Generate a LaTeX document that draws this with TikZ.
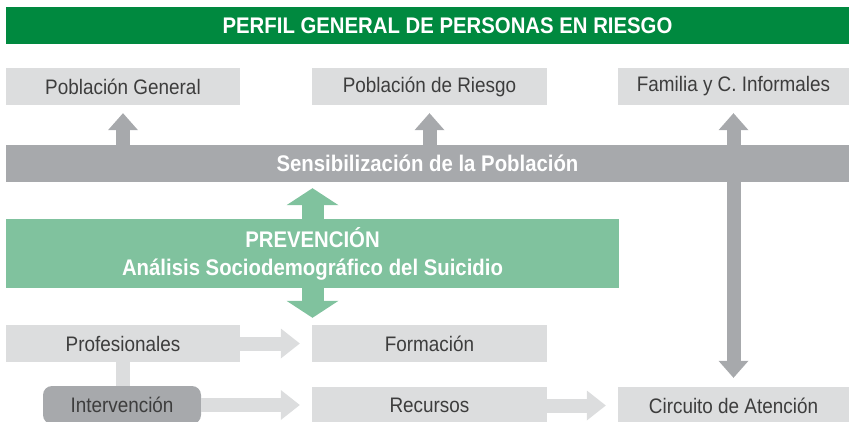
\documentclass[tikz,border=0pt]{standalone}
\usepackage{fontspec}
\setmainfont[FakeStretch=0.9]{Liberation Sans}
\usepackage{tikz}
\usetikzlibrary{arrows.meta}
\definecolor{titlegreen}{RGB}{0,137,63}
\definecolor{prevgreen}{RGB}{128,194,158}
\definecolor{bargray}{RGB}{167,169,172}
\definecolor{boxgray}{RGB}{220,221,222}
\definecolor{textgray}{RGB}{61,61,61}
\tikzset{
	box node/.style={fill=boxgray,text=textgray,minimum width=235pt,minimum height=37pt,inner sep=0pt,font=\fontsize{21}{24}\selectfont},
	bar node/.style={fill=bargray,text=white,minimum width=843pt,minimum height=37pt,inner sep=0pt,font=\fontsize{22.6}{26}\selectfont\bfseries},
	gray arrow/.style={bargray,line width=14pt,-{Triangle[length=17pt,width=30pt,line width=0pt]}},
	light arrow/.style={boxgray,line width=14pt,-{Triangle[length=19pt,width=30pt,line width=0pt]}},
	green arrow/.style={prevgreen,line width=22pt,{Triangle[length=17pt,width=52pt,line width=0pt]}-{Triangle[length=17pt,width=52pt,line width=0pt]}}
}

\begin{document}
\begin{tikzpicture}[x=1pt,y=-1pt]
	\useasboundingbox (0,0) rectangle (849,422);
	\node [bar node,fill=titlegreen,minimum width=883pt] (title) at (447.5,25.5) {PERFIL GENERAL DE PERSONAS EN RIESGO};
	\node [box node,minimum width=234pt] (pg) at (123,86.5) {Población General};
	\node [box node] (pr) at (429.5,86.5) {Población de Riesgo};
	\node [box node,minimum width=231pt] (fam) at (733.5,86.5) {Familia y C. Informales};
	\node [bar node] (sens) at (427.5,163.5) {Sensibilización de la Población};
	\node [box node,minimum width=234pt] (prof) at (123,343.5) {Profesionales};
	\node [box node] (form) at (429.5,343.5) {Formación};
	\node [box node] (recu) at (429.5,405.5) {Recursos};
	\node [box node,minimum width=231pt] (circ) at (733.5,405.5) {Circuito de Atención};
	\coordinate (pv) at (312.5,253.5);
	\draw [green arrow,shorten <=6pt,shorten >=7pt] (sens.south -| pv) -- (prof.north -| pv);
	\node [fill=prevgreen,text=white,minimum width=613pt,minimum height=69pt,inner sep=0pt,align=center,
	       font=\fontsize{22.6}{28}\selectfont\bfseries] (prev) at (pv) {PREVENCIÓN\\Análisis Sociodemográfico del Suicidio};
	\draw [boxgray,line width=14pt] (prof.south) -- ++(0,30);
	\node [box node,fill=bargray,minimum width=158pt,minimum height=38pt,rounded corners=9pt] (interv) at (122,405) {Intervención};
	\draw [gray arrow,shorten >=8pt] (sens.north -| pg) -- (pg.south);
	\draw [gray arrow,shorten >=8pt] (sens.north -| pr) -- (pr.south);
	\draw [gray arrow,shorten >=8pt] (sens.north -| fam) -- (fam.south);
	\draw [gray arrow,shorten >=9pt] (sens.south -| circ) -- (circ.north);
	\draw [light arrow,shorten >=12pt] (prof.east) -- (form.west);
	\draw [light arrow,shorten >=12pt] (interv.east) -- (interv.east -| recu.west);
	\draw [light arrow,shorten >=12pt] (recu.east) -- (circ.west);
\end{tikzpicture}
\end{document}
